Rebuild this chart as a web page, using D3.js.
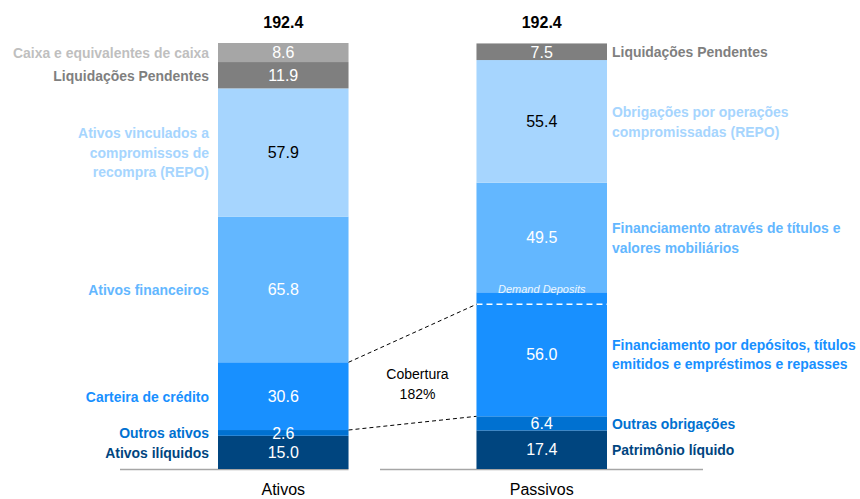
<!DOCTYPE html>
<html><head><meta charset="utf-8">
<script src="https://cdn.jsdelivr.net/npm/d3@7"></script>
<style>
html,body{margin:0;padding:0;background:#fff;}
svg text{font-family:"Liberation Sans", Arial, sans-serif;}
</style></head>
<body>
<svg id="chart" width="860" height="499"></svg>
<script>
// ---- data ----
const categories = ["Ativos", "Passivos"];
const totals = [192.4, 192.4];

const ativosLabels = [
  ["Ativos ilíquidos"],
  ["Outros ativos"],
  ["Carteira de crédito"],
  ["Ativos financeiros"],
  ["Ativos vinculados a", "compromissos de", "recompra (REPO)"],
  ["Liquidações Pendentes"],
  ["Caixa e equivalentes de caixa"]
];
const ativosValues = [15.0, 2.6, 30.6, 65.8, 57.9, 11.9, 8.6];

const passivosLabels = [
  ["Patrimônio líquido"],
  ["Outras obrigações"],
  ["Financiamento por depósitos, títulos", "emitidos e empréstimos e repasses"],
  ["Financiamento através de títulos e", "valores mobiliários"],
  ["Obrigações por operações", "compromissadas (REPO)"],
  ["Liquidações Pendentes"]
];
const passivosValues = [17.4, 6.4, 56.0, 49.5, 55.4, 7.5];

const demandDepositsLabel = "Demand Deposits";
const demandDeposits = 5.4;   // part of the 56.0 segment above dashed line
const coverageLabel = ["Cobertura", "182%"];

// ---- styles ----
const ativosColors   = ["#00457f", "#0071d1", "#1890ff", "#63b7ff", "#a6d5fe", "#7f7f7f", "#a6a6a6"];
const ativosText     = ["#00457f", "#0071d1", "#1890ff", "#63b7ff", "#a6d5fe", "#7f7f7f", "#bfbfbf"];
const ativosValColor = ["#fff", "#fff", "#fff", "#fff", "#000", "#fff", "#fff"];
const passivosColors   = ["#00457f", "#0071d1", "#1890ff", "#63b7ff", "#a6d5fe", "#7f7f7f"];
const passivosText     = ["#00457f", "#0071d1", "#1890ff", "#63b7ff", "#a6d5fe", "#7f7f7f"];
const passivosValColor = ["#fff", "#fff", "#fff", "#fff", "#000", "#fff"];

const svg = d3.select("#chart");
const baseY = 469;

const x = d3.scaleBand().domain(categories).range([218, 607]).paddingInner(0.495).paddingOuter(0);
const y = d3.scaleLinear().domain([0, d3.max(totals)]).range([baseY, 43]);
const bw = x.bandwidth();

function stack(values) {
  let c = 0;
  return values.map((v, i) => { const s = c; c += v; return {i, v, y0: s, y1: c}; });
}
const aStack = stack(ativosValues);
const pStack = stack(passivosValues);

// axis baselines
svg.append("line").attr("x1", 120).attr("x2", x("Ativos") + bw).attr("y1", baseY + 0.5).attr("y2", baseY + 0.5)
  .attr("stroke", "#a6a6a6").attr("stroke-width", 1.5);
svg.append("line").attr("x1", 380).attr("x2", 703).attr("y1", baseY + 0.5).attr("y2", baseY + 0.5)
  .attr("stroke", "#a6a6a6").attr("stroke-width", 1.5);

function drawBar(cat, st, colors, valColors) {
  const g = svg.append("g");
  g.selectAll("rect").data(st).join("rect")
    .attr("x", x(cat)).attr("width", bw)
    .attr("y", d => y(d.y1)).attr("height", d => y(d.y0) - y(d.y1))
    .attr("fill", d => colors[d.i]);
  g.selectAll("text.val").data(st).join("text").attr("class", "val")
    .attr("x", x(cat) + bw / 2)
    .attr("y", d => (y(d.y0) + y(d.y1)) / 2)
    .attr("dy", "0.36em")
    .attr("text-anchor", "middle")
    .attr("font-size", 16)
    .attr("fill", d => valColors[d.i])
    .text(d => d.v.toFixed(1));
}
drawBar("Ativos", aStack, ativosColors, ativosValColor);
drawBar("Passivos", pStack, passivosColors, passivosValColor);

// totals
categories.forEach((c, k) => {
  svg.append("text").attr("x", x(c) + bw / 2).attr("y", y(totals[k]) - 21).attr("dy", "0.36em")
    .attr("text-anchor", "middle").attr("font-size", 16).attr("font-weight", "bold").attr("fill", "#000")
    .text(totals[k].toFixed(1));
  svg.append("text").attr("x", x(c) + bw / 2).attr("y", baseY + 20).attr("dy", "0.36em")
    .attr("text-anchor", "middle").attr("font-size", 16).attr("fill", "#000").text(c);
});

// side labels
function drawLabels(st, labels, colors, xPos, anchor) {
  st.forEach(d => {
    const lines = labels[d.i];
    const cy = (y(d.y0) + y(d.y1)) / 2;
    const lh = 19.5;
    lines.forEach((ln, j) => {
      const ly = cy + (j - (lines.length - 1) / 2) * lh;
      svg.append("text")
        .attr("transform", `translate(${xPos},${ly}) scale(0.93,1)`)
        .attr("dy", "0.36em")
        .attr("text-anchor", anchor)
        .attr("font-size", 15).attr("font-weight", "bold")
        .attr("fill", colors[d.i]).text(ln);
    });
  });
}
drawLabels(aStack, ativosLabels, ativosText, x("Ativos") - 9, "end");
drawLabels(pStack, passivosLabels, passivosText, x("Passivos") + bw + 5, "start");

// demand deposits
const ddY = y(pStack[2].y1 - demandDeposits);
svg.append("line").attr("x1", x("Passivos")).attr("x2", x("Passivos") + bw)
  .attr("y1", ddY).attr("y2", ddY)
  .attr("stroke", "#fff").attr("stroke-width", 1.5).attr("stroke-dasharray", "6,4");
svg.append("text").attr("x", x("Passivos") + bw / 2).attr("y", y(pStack[2].y1) + 1)
  .attr("text-anchor", "middle").attr("font-size", 11).attr("font-style", "italic")
  .attr("fill", "#eef7ff").text(demandDepositsLabel);

// coverage connectors
const xa = x("Ativos") + bw, xp = x("Passivos");
const conn = [
  [y(aStack[2].y1), ddY],
  [y(aStack[1].y1), y(pStack[1].y1)]
];
conn.forEach(c => {
  svg.append("line").attr("x1", xa).attr("y1", c[0]).attr("x2", xp).attr("y2", c[1])
    .attr("stroke", "#000").attr("stroke-width", 1).attr("stroke-dasharray", "4,3");
});
const cx = (xa + xp) / 2 + 5;
coverageLabel.forEach((t, j) => {
  svg.append("text").attr("x", cx).attr("y", 374 + j * 20).attr("dy", "0.36em")
    .attr("text-anchor", "middle").attr("font-size", 14).attr("fill", "#000").text(t);
});
</script>
</body></html>
